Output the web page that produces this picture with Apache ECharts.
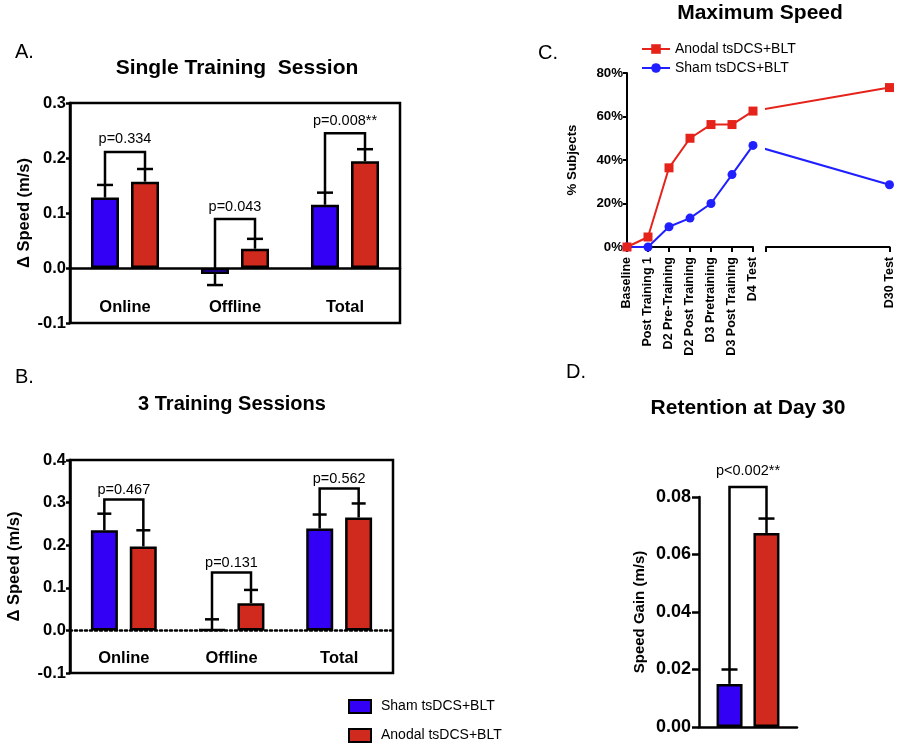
<!DOCTYPE html>
<html>
<head>
<meta charset="utf-8">
<script src="https://cdn.jsdelivr.net/npm/echarts@6/dist/echarts.min.js"></script>
<style>html,body{margin:0;padding:0;background:#fff}#main{width:900px;height:744px}</style>
</head>
<body>
<div id="main"></div>
<script>
// ---------- data ----------
const barCategories = ['Online', 'Offline', 'Total'];
// A. Single training session
const singleSham = [0.128, -0.011, 0.115];
const singleShamErr = [0.151, -0.031, 0.137];
const singleAnodal = [0.157, 0.035, 0.194];
const singleAnodalErr = [0.180, 0.053, 0.216];
const singleBracket = [0.211, 0.089, 0.245];
const singlePLabels = ['p=0.334', 'p=0.043', 'p=0.008**'];
// B. 3 training sessions
const threeSham = [0.235, 0.002, 0.239];
const threeShamErr = [0.274, 0.026, 0.272];
const threeAnodal = [0.197, 0.064, 0.265];
const threeAnodalErr = [0.235, 0.095, 0.298];
const threeBracket = [0.307, 0.136, 0.333];
const threePLabels = ['p=0.467', 'p=0.131', 'p=0.562'];
// C. Maximum speed (% subjects)
const speedCategories = ['Baseline', 'Post Training 1', 'D2 Pre-Training', 'D2 Post Training', 'D3 Pretraining', 'D3 Post Training', 'D4 Test'];
const anodalMax = [0, 4.6, 36.4, 50, 56.3, 56.3, 62.5];
const shamMax = [0, 0, 9.3, 13.3, 20, 33.3, 46.7];
const d30Label = 'D30 Test';
const anodalD30 = 73.3;
const shamD30 = 28.6;
// D. Retention at day 30
const retentionCategories = ['Day 30'];
const retentionSham = [0.015];
const retentionShamErr = [0.020];
const retentionAnodal = [0.0675];
const retentionAnodalErr = [0.0725];
const retentionBracket = [0.0835];
const retentionPLabels = ['p<0.002**'];

const SHAM = 'Sham tsDCS+BLT';
const ANODAL = 'Anodal tsDCS+BLT';

// ---------- styles ----------
const FONT = '"Liberation Sans", Arial, Helvetica, sans-serif';
const BLUE = '#3300f5';
const RED = '#d0291d';
const LINE_RED = '#e5231b';
const LINE_BLUE = '#1f1fff';
const D4_POS = speedCategories.length - 1;
const D30_POS = 12.5;
const C2_MIN = 6.62;

const chart = echarts.init(document.getElementById('main'), null, {renderer: 'canvas'});

function barSeries(name, color, xi, data, width, gap) {
  return {
    type: 'bar', name, xAxisIndex: xi, yAxisIndex: xi, data,
    barWidth: width, barGap: gap, z: 2,
    itemStyle: {color, borderColor: '#000', borderWidth: 2.5},
    emphasis: {disabled: true}
  };
}

function errorSeries(xi, vals, errs, offset, cap) {
  return {
    type: 'custom', xAxisIndex: xi, yAxisIndex: xi, silent: true, z: 4,
    data: vals.map((v, i) => [i, v, errs[i]]),
    renderItem(params, api) {
      const i = api.value(0);
      const b = api.coord([i, api.value(1)]);
      const e = api.coord([i, api.value(2)]);
      const x = b[0] + offset;
      const st = {stroke: '#000', lineWidth: 2.5};
      return {type: 'group', children: [
        {type: 'line', shape: {x1: x, y1: b[1], x2: x, y2: e[1]}, style: st},
        {type: 'line', shape: {x1: x - cap, y1: e[1], x2: x + cap, y2: e[1]}, style: st}
      ]};
    }
  };
}

function bracketSeries(xi, sham, shamErr, anodal, anodalErr, bracket, labels, offset, labelGap, fontSize) {
  return {
    type: 'custom', xAxisIndex: xi, yAxisIndex: xi, silent: true, z: 5, clip: false,
    data: bracket.map((b, i) => [i, b, Math.max(0, sham[i], shamErr[i]), Math.max(0, anodal[i], anodalErr[i])]),
    renderItem(params, api) {
      const i = api.value(0);
      const top = api.coord([i, api.value(1)]);
      const l = api.coord([i, api.value(2)]);
      const r = api.coord([i, api.value(3)]);
      const lx = top[0] - offset, rx = top[0] + offset;
      return {type: 'group', children: [
        {type: 'polyline', shape: {points: [[lx, l[1]], [lx, top[1]], [rx, top[1]], [rx, r[1]]]},
          style: {stroke: '#000', lineWidth: 2.5, fill: null}},
        {type: 'text', style: {text: labels[params.dataIndex], x: top[0], y: top[1] - labelGap,
          align: 'center', verticalAlign: 'bottom', fontSize, fontFamily: FONT, fill: '#000'}}
      ]};
    }
  };
}

const axisLine = (w) => ({show: true, onZero: true, lineStyle: {color: '#000', width: w}});
const boldLabel = (size, extra) => Object.assign({color: '#000', fontSize: size, fontWeight: 'bold', fontFamily: FONT}, extra || {});
const letterStyle = {fontSize: 20, fontWeight: 'normal', color: '#000', fontFamily: FONT};
const titleStyle = (s) => ({fontSize: s, fontWeight: 'bold', color: '#000', fontFamily: FONT});

const option = {
  animation: false,
  textStyle: {fontFamily: FONT, color: '#000'},
  title: [
    {text: 'A.', left: 15, top: 42, padding: 0, textStyle: letterStyle},
    {text: 'Single Training  Session', left: 237, top: 58, padding: 0, textAlign: 'center', textStyle: titleStyle(21)},
    {text: 'B.', left: 15, top: 367, padding: 0, textStyle: letterStyle},
    {text: '3 Training Sessions', left: 232, top: 394, padding: 0, textAlign: 'center', textStyle: titleStyle(20)},
    {text: 'C.', left: 538, top: 43, padding: 0, textStyle: letterStyle},
    {text: 'Maximum Speed', left: 760, top: 3, padding: 0, textAlign: 'center', textStyle: titleStyle(21)},
    {text: 'D.', left: 566, top: 362, padding: 0, textStyle: letterStyle},
    {text: 'Retention at Day 30', left: 748, top: 398, padding: 0, textAlign: 'center', textStyle: titleStyle(21)}
  ],
  legend: [
    {orient: 'vertical', left: 641, top: 42, padding: 0, itemWidth: 28, itemHeight: 12, itemGap: 5,
      data: [ANODAL, SHAM], selectedMode: false,
      textStyle: {fontSize: 14, lineHeight: 14, color: '#000', fontFamily: FONT}},
    {orient: 'vertical', left: 348, top: 699, padding: 0, icon: 'rect', itemWidth: 22, itemHeight: 13, itemGap: 14, selectedMode: false,
      data: [
        {name: SHAM, itemStyle: {color: BLUE, borderColor: '#000', borderWidth: 2}},
        {name: ANODAL, itemStyle: {color: RED, borderColor: '#000', borderWidth: 2}}
      ],
      textStyle: {fontSize: 14, lineHeight: 14, color: '#000', fontFamily: FONT, padding: [0, 0, 0, 5]}}
  ],
  grid: [
    {left: 70, top: 103, width: 330, height: 220, show: true, borderColor: '#000', borderWidth: 2.5, backgroundColor: 'transparent'},
    {left: 70, top: 460, width: 323, height: 213, show: true, borderColor: '#000', borderWidth: 2.5, backgroundColor: 'transparent'},
    {left: 627, top: 73, width: 126, height: 174},
    {left: 766, top: 73, width: (D30_POS - C2_MIN) * 21, height: 174},
    {left: 699, top: 497, width: 98, height: 230}
  ],
  xAxis: [
    {gridIndex: 0, type: 'category', data: barCategories, axisLine: axisLine(2.5), axisTick: {show: false},
      axisLabel: boldLabel(16.5, {margin: -24})},
    {gridIndex: 1, type: 'category', data: barCategories,
      axisLine: {show: true, onZero: true, lineStyle: {color: '#000', width: 2.5, type: [2, 3]}}, axisTick: {show: false},
      axisLabel: boldLabel(16.5, {margin: -23})},
    {gridIndex: 2, type: 'category', data: speedCategories, boundaryGap: false,
      axisLine: axisLine(2), axisTick: {show: true, length: 5, lineStyle: {color: '#000', width: 2}},
      axisLabel: boldLabel(12.5, {rotate: 90, margin: 10, interval: 0})},
    {gridIndex: 3, type: 'value', min: C2_MIN, max: D30_POS, splitLine: {show: false},
      axisLine: axisLine(2),
      axisTick: {show: true, length: 5, customValues: [C2_MIN, D30_POS], lineStyle: {color: '#000', width: 2}},
      axisLabel: boldLabel(12.5, {rotate: 90, margin: 10, customValues: [D30_POS], formatter: () => d30Label})},
    {gridIndex: 4, type: 'category', data: retentionCategories, axisLine: axisLine(2.5), axisTick: {show: false},
      axisLabel: {show: false}}
  ],
  yAxis: [
    {gridIndex: 0, type: 'value', min: -0.1, max: 0.3, interval: 0.1, splitLine: {show: false},
      axisLine: axisLine(2.5), axisTick: {show: true, length: 4, lineStyle: {color: '#000', width: 2.5}},
      axisLabel: boldLabel(16.5, {margin: 4, formatter: v => v.toFixed(1)}),
      name: 'Δ Speed (m/s)', nameLocation: 'middle', nameGap: 37, nameTextStyle: boldLabel(16.5)},
    {gridIndex: 1, type: 'value', min: -0.1, max: 0.4, interval: 0.1, splitLine: {show: false},
      axisLine: axisLine(2.5), axisTick: {show: true, length: 4, lineStyle: {color: '#000', width: 2.5}},
      axisLabel: boldLabel(16.5, {margin: 4, formatter: v => v.toFixed(1)}),
      name: 'Δ Speed (m/s)', nameLocation: 'middle', nameGap: 47, nameTextStyle: boldLabel(16.5)},
    {gridIndex: 2, type: 'value', min: 0, max: 80, interval: 20, splitLine: {show: false},
      axisLine: axisLine(2), axisTick: {show: true, length: 4, lineStyle: {color: '#000', width: 2}},
      axisLabel: boldLabel(13.3, {margin: 4, formatter: '{value}%'}),
      name: '% Subjects', nameLocation: 'middle', nameGap: 48, nameTextStyle: boldLabel(13.3)},
    {gridIndex: 3, type: 'value', min: 0, max: 80, interval: 20, show: false},
    {gridIndex: 4, type: 'value', min: 0, max: 0.08, interval: 0.02, splitLine: {show: false},
      axisLine: axisLine(2.5), axisTick: {show: true, length: 7, lineStyle: {color: '#000', width: 2.5}},
      axisLabel: boldLabel(18, {margin: 8, formatter: v => v.toFixed(2)}),
      name: 'Speed Gain (m/s)', nameLocation: 'middle', nameGap: 52, nameTextStyle: boldLabel(15)}
  ],
  series: [
    // C: lines (first so the C legend uses line icons)
    {type: 'line', name: ANODAL, xAxisIndex: 2, yAxisIndex: 2, data: anodalMax, symbol: 'rect', symbolSize: 9,
      lineStyle: {color: LINE_RED, width: 2}, itemStyle: {color: LINE_RED}, z: 5},
    {type: 'line', name: SHAM, xAxisIndex: 2, yAxisIndex: 2, data: shamMax, symbol: 'circle', symbolSize: 9,
      lineStyle: {color: LINE_BLUE, width: 2}, itemStyle: {color: LINE_BLUE}, z: 4},
    {type: 'line', name: ANODAL, xAxisIndex: 3, yAxisIndex: 3, clip: true,
      data: [[D4_POS, anodalMax[D4_POS]], [D30_POS, anodalD30]], symbol: 'rect', symbolSize: 9,
      lineStyle: {color: LINE_RED, width: 2}, itemStyle: {color: LINE_RED}, z: 5},
    {type: 'line', name: SHAM, xAxisIndex: 3, yAxisIndex: 3, clip: true,
      data: [[D4_POS, shamMax[D4_POS]], [D30_POS, shamD30]], symbol: 'circle', symbolSize: 9,
      lineStyle: {color: LINE_BLUE, width: 2}, itemStyle: {color: LINE_BLUE}, z: 4},

    // A
    barSeries(SHAM, BLUE, 0, singleSham, 28, '43%'),
    barSeries(ANODAL, RED, 0, singleAnodal, 28, '43%'),
    errorSeries(0, singleSham, singleShamErr, -20, 8),
    errorSeries(0, singleAnodal, singleAnodalErr, 20, 8),
    bracketSeries(0, singleSham, singleShamErr, singleAnodal, singleAnodalErr, singleBracket, singlePLabels, 20, 5, 14.5),

    // B
    barSeries(SHAM, BLUE, 1, threeSham, 27, '44%'),
    barSeries(ANODAL, RED, 1, threeAnodal, 27, '44%'),
    errorSeries(1, threeSham, threeShamErr, -19.5, 7),
    errorSeries(1, threeAnodal, threeAnodalErr, 19.5, 7),
    bracketSeries(1, threeSham, threeShamErr, threeAnodal, threeAnodalErr, threeBracket, threePLabels, 19.5, 2, 14.5),

    // D
    barSeries(SHAM, BLUE, 4, retentionSham, 26, '42%'),
    barSeries(ANODAL, RED, 4, retentionAnodal, 26, '42%'),
    errorSeries(4, retentionSham, retentionShamErr, -18.5, 8),
    errorSeries(4, retentionAnodal, retentionAnodalErr, 18.5, 8),
    bracketSeries(4, retentionSham, retentionShamErr, retentionAnodal, retentionAnodalErr, retentionBracket, retentionPLabels, 18.5, 8, 14.5)
  ]
};

chart.setOption(option);
</script>
</body>
</html>
